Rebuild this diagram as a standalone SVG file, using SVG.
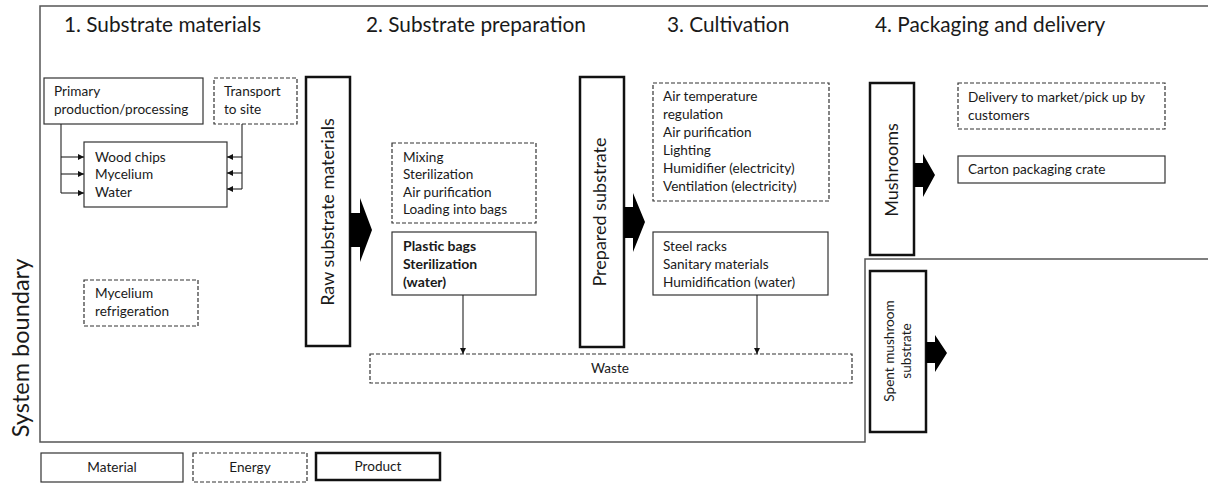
<svg xmlns="http://www.w3.org/2000/svg" width="1208" height="483" viewBox="0 0 1208 483">
  <defs>
    <marker id="tri" viewBox="0 0 10 10" refX="10" refY="5" markerWidth="6" markerHeight="6" markerUnits="userSpaceOnUse" orient="auto">
      <path d="M0,0 L10,5 L0,10 Z" fill="#111"/>
    </marker>
    <style>
      text { font-family: Lato, "Open Sans", "Liberation Sans", sans-serif; fill: #1a1a1a; }
      .head { font-size: 20.8px; }
      .body { font-size: 13.6px; }
      .bold { font-size: 14px; font-weight: bold; }
      .prod-label { font-size: 18px; }
      .mat { fill: #fff; stroke: #333; stroke-width: 1.2; }
      .nrg { fill: #fff; stroke: #333; stroke-width: 1.2; stroke-dasharray: 4 2; }
      .prod { fill: #fff; stroke: #111; stroke-width: 2.5; }
      .boundary { fill: none; stroke: #555; stroke-width: 1.5; }
      .conn { fill: none; stroke: #222; stroke-width: 1.1; }
      .block { fill: #000; }
    </style>
  </defs>

  <rect width="1208" height="483" fill="#fff"/>

  <!-- system boundary outline -->
  <g id="boundary">
    <path class="boundary" d="M1208,6 H40 V442 H865 V259 H1208"/>
    <text transform="translate(29,348) rotate(-90)" text-anchor="middle" style="font-size:23.5px">System boundary</text>
  </g>

  <!-- stage headings -->
  <g id="headings">
    <text class="head" x="64" y="32">1. Substrate materials</text>
    <text class="head" x="366" y="32">2. Substrate preparation</text>
    <text class="head" x="667" y="32">3. Cultivation</text>
    <text class="head" x="875" y="32">4. Packaging and delivery</text>
  </g>

  <!-- stage 1 -->
  <g id="primary-production">
    <rect class="mat" x="44" y="78" width="159" height="46"/>
    <text class="body" x="54" y="96">Primary</text>
    <text class="body" x="54" y="114">production/processing</text>
  </g>
  <g id="transport">
    <rect class="nrg" x="214" y="78" width="83" height="46"/>
    <text class="body" x="224" y="96">Transport</text>
    <text class="body" x="224" y="114">to site</text>
  </g>
  <g id="inputs">
    <rect class="mat" x="84" y="142" width="143" height="65"/>
    <text class="body" x="95" y="162">Wood chips</text>
    <text class="body" x="95" y="179">Mycelium</text>
    <text class="body" x="95" y="197">Water</text>
  </g>
  <g id="refrigeration">
    <rect class="nrg" x="84" y="280" width="114" height="46"/>
    <text class="body" x="95" y="298">Mycelium</text>
    <text class="body" x="95" y="316">refrigeration</text>
  </g>

  <!-- product: raw substrate materials -->
  <g id="raw-substrate">
    <rect class="prod" x="306" y="77" width="44" height="269"/>
    <text class="prod-label" transform="translate(334,212) rotate(-90)" text-anchor="middle">Raw substrate materials</text>
  </g>

  <!-- stage 2 -->
  <g id="preparation-energy">
    <rect class="nrg" x="392" y="143" width="144" height="80"/>
    <text class="body" x="403" y="162">Mixing</text>
    <text class="body" x="403" y="179">Sterilization</text>
    <text class="body" x="403" y="197">Air purification</text>
    <text class="body" x="403" y="214">Loading into bags</text>
  </g>
  <g id="preparation-material">
    <rect class="mat" x="392" y="232" width="144" height="63"/>
    <text class="bold" x="403" y="251">Plastic bags</text>
    <text class="bold" x="403" y="269">Sterilization</text>
    <text class="bold" x="403" y="287">(water)</text>
  </g>

  <!-- product: prepared substrate -->
  <g id="prepared-substrate">
    <rect class="prod" x="580" y="77" width="44" height="270"/>
    <text class="prod-label" transform="translate(606,212) rotate(-90)" text-anchor="middle">Prepared substrate</text>
  </g>

  <!-- stage 3 -->
  <g id="cultivation-energy">
    <rect class="nrg" x="653" y="83" width="176" height="118"/>
    <text class="body" x="663" y="101">Air temperature</text>
    <text class="body" x="663" y="119">regulation</text>
    <text class="body" x="663" y="137">Air purification</text>
    <text class="body" x="663" y="155">Lighting</text>
    <text class="body" x="663" y="173">Humidifier (electricity)</text>
    <text class="body" x="663" y="191">Ventilation (electricity)</text>
  </g>
  <g id="cultivation-material">
    <rect class="mat" x="653" y="232" width="175" height="63"/>
    <text class="body" x="663" y="251">Steel racks</text>
    <text class="body" x="663" y="269">Sanitary materials</text>
    <text class="body" x="663" y="287">Humidification (water)</text>
  </g>

  <g id="waste">
    <rect class="nrg" x="370" y="354" width="482" height="29"/>
    <text class="body" x="610" y="373" text-anchor="middle">Waste</text>
  </g>

  <!-- stage 4 -->
  <g id="mushrooms">
    <rect class="prod" x="870" y="83" width="44" height="172"/>
    <text class="prod-label" transform="translate(898,170) rotate(-90)" text-anchor="middle">Mushrooms</text>
  </g>
  <g id="delivery">
    <rect class="nrg" x="958" y="83" width="207" height="46"/>
    <text class="body" x="968" y="102">Delivery to market/pick up by</text>
    <text class="body" x="968" y="120">customers</text>
  </g>
  <g id="carton">
    <rect class="mat" x="958" y="156" width="207" height="27"/>
    <text class="body" x="968" y="174">Carton packaging crate</text>
  </g>
  <g id="spent-substrate">
    <rect class="prod" x="870" y="271" width="56" height="161"/>
    <text class="body" transform="translate(894,351) rotate(-90)" text-anchor="middle">Spent mushroom</text>
    <text class="body" transform="translate(911,351) rotate(-90)" text-anchor="middle">substrate</text>
  </g>

  <!-- legend -->
  <g id="legend-material">
    <rect class="mat" x="41" y="453" width="142" height="29"/>
    <text class="body" x="112" y="472" text-anchor="middle">Material</text>
  </g>
  <g id="legend-energy">
    <rect class="nrg" x="193" y="453" width="114" height="29"/>
    <text class="body" x="250" y="472" text-anchor="middle">Energy</text>
  </g>
  <g id="legend-product">
    <rect class="prod" x="316" y="453" width="124" height="27"/>
    <text class="body" x="378" y="471" text-anchor="middle">Product</text>
  </g>

  <!-- connectors -->
  <g id="connectors">
    <path class="conn" d="M61,124 V193"/>
    <path class="conn" d="M61,157 H84" marker-end="url(#tri)"/>
    <path class="conn" d="M61,174 H84" marker-end="url(#tri)"/>
    <path class="conn" d="M61,193 H84" marker-end="url(#tri)"/>
    <path class="conn" d="M242,124 V189"/>
    <path class="conn" d="M242,157 H227" marker-end="url(#tri)"/>
    <path class="conn" d="M242,173 H227" marker-end="url(#tri)"/>
    <path class="conn" d="M242,189 H227" marker-end="url(#tri)"/>
    <path class="conn" d="M463,295 V354" marker-end="url(#tri)"/>
    <path class="conn" d="M757,295 V354" marker-end="url(#tri)"/>
    <!-- block arrows leaving each product -->
    <path class="block" d="M350,213 H360 V198 L372,230 L360,262 V247 H350 Z"/>
    <path class="block" d="M624,207 H633 V193 L645,222 L633,252 V238 H624 Z"/>
    <path class="block" d="M914,163 H923 V154 L935,175 L923,197 V187 H914 Z"/>
    <path class="block" d="M926,342 H935 V335 L947,353 L935,372 V363 H926 Z"/>
  </g>
</svg>
